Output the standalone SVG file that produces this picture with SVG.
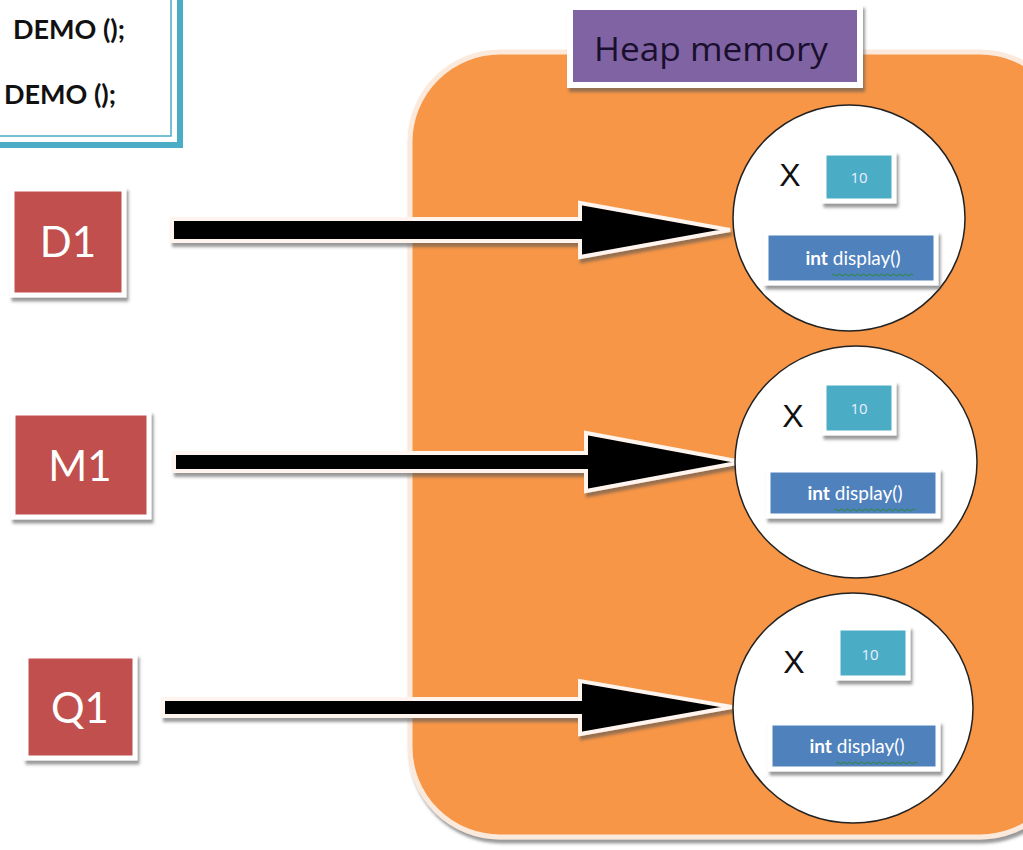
<svg xmlns="http://www.w3.org/2000/svg" width="1023" height="850" viewBox="0 0 1023 850">
<style>
.red{fill:#C0504D;stroke:#fff;stroke-width:5}
.redt{font-family:Lato,"Open Sans",sans-serif;font-size:42px;fill:#fff;text-anchor:middle}
.circ{fill:#fff;stroke:#222;stroke-width:1.5}
.val{fill:#4BACC6;stroke:#fff;stroke-width:5}
.valt{font-family:"Open Sans",sans-serif;font-size:15px;fill:#eef;text-anchor:middle}
.meth{fill:#4F81BD;stroke:#fff;stroke-width:5}
.metht{font-family:Lato,"Open Sans",sans-serif;font-size:19px;fill:#fff;text-anchor:middle}
.x{font-family:"Liberation Sans",Arial,sans-serif;font-size:32px;fill:#111;text-anchor:middle}
.arrow{fill:#000;stroke:#fff5ee;stroke-width:4;stroke-linejoin:miter}
.demo{font-family:Lato,"Open Sans",sans-serif;font-weight:bold;font-size:27px;fill:#111}
.sq{fill:none;stroke:#2a8a2a;stroke-width:1}
</style>
<defs>
<filter id="sh" x="-10%" y="-10%" width="130%" height="130%">
<feDropShadow dx="2" dy="4" stdDeviation="1.5" flood-color="#555" flood-opacity="0.6"/>
</filter>
</defs>
<rect width="1023" height="850" fill="#fff"/>

<g id="code">
<rect x="-10" y="-10" width="190" height="155" fill="#fff" stroke="#4BACC6" stroke-width="6"/>
<rect x="-10" y="-10" width="181" height="146" fill="none" stroke="#4BACC6" stroke-width="1.5"/>
<text class="demo" x="13" y="39">DEMO ();</text>
<text class="demo" x="4" y="104">DEMO ();</text>
</g>

<g id="heap">
<rect x="410" y="52" width="660" height="785" rx="90" ry="90" fill="#F79646" stroke="#fbe9dc" stroke-width="5" filter="url(#sh)"/>
</g>

<g id="heap-label">
<rect x="570" y="7" width="290" height="78" fill="#8064A2" stroke="#fff" stroke-width="6" filter="url(#sh)"/>
<text x="711" y="61" font-family="'Open Sans',sans-serif" font-size="33" fill="#1a0f2e" text-anchor="middle" textLength="234" lengthAdjust="spacingAndGlyphs">Heap memory</text>
</g>

<g id="D1">
<rect class="red" x="12" y="189" width="112" height="106" filter="url(#sh)"/>
<text class="redt" x="68" y="257">D1</text>
</g>
<g id="M1">
<rect class="red" x="13" y="413" width="136" height="104" filter="url(#sh)"/>
<text class="redt" x="80" y="481">M1</text>
</g>
<g id="Q1">
<rect class="red" x="26" y="656" width="109" height="102" filter="url(#sh)"/>
<text class="redt" x="80" y="723">Q1</text>
</g>

<g id="connectors">
<polygon class="arrow" filter="url(#sh)" points="172,219 580,219 580,203 730,230 580,257 580,241 172,241"/>
<polygon class="arrow" filter="url(#sh)" points="174,453 586,453 586,433 742,462 586,491 586,471 174,471"/>
<polygon class="arrow" filter="url(#sh)" points="163,699 580,699 580,681 732,707 580,734 580,716 163,716"/>
</g>

<g id="obj1">
<ellipse class="circ" cx="849" cy="218" rx="116" ry="113"/>
<text class="x" x="790" y="186">X</text>
<rect class="val" x="824" y="153" width="70" height="48" filter="url(#sh)"/>
<text class="valt" x="859" y="183">10</text>
<rect class="meth" x="766" y="233" width="170" height="50" filter="url(#sh)"/>
<text class="metht" x="853" y="265"><tspan font-weight="bold">int</tspan> display()</text>
<path class="sq" d="M832,275 q1.5,-2 3,0 t3,0 t3,0 t3,0 t3,0 t3,0 t3,0 t3,0 t3,0 t3,0 t3,0 t3,0 t3,0 t3,0 t3,0 t3,0 t3,0 t3,0 t3,0 t3,0 t3,0 t3,0 t3,0 t3,0 t3,0 t3,0 t3,0"/>
</g>

<g id="obj2">
<ellipse class="circ" cx="856" cy="462" rx="121" ry="116"/>
<text class="x" x="793" y="427">X</text>
<rect class="val" x="824" y="383" width="70" height="50" filter="url(#sh)"/>
<text class="valt" x="859" y="414">10</text>
<rect class="meth" x="768" y="470" width="170" height="46" filter="url(#sh)"/>
<text class="metht" x="855" y="500"><tspan font-weight="bold">int</tspan> display()</text>
<path class="sq" d="M834,510 q1.5,-2 3,0 t3,0 t3,0 t3,0 t3,0 t3,0 t3,0 t3,0 t3,0 t3,0 t3,0 t3,0 t3,0 t3,0 t3,0 t3,0 t3,0 t3,0 t3,0 t3,0 t3,0 t3,0 t3,0 t3,0 t3,0 t3,0 t3,0"/>
</g>

<g id="obj3">
<ellipse class="circ" cx="853" cy="708" rx="120" ry="115"/>
<text class="x" x="794" y="673">X</text>
<rect class="val" x="838" y="628" width="70" height="50" filter="url(#sh)"/>
<text class="valt" x="870" y="660">10</text>
<rect class="meth" x="770" y="723" width="168" height="46" filter="url(#sh)"/>
<text class="metht" x="857" y="753"><tspan font-weight="bold">int</tspan> display()</text>
<path class="sq" d="M836,763 q1.5,-2 3,0 t3,0 t3,0 t3,0 t3,0 t3,0 t3,0 t3,0 t3,0 t3,0 t3,0 t3,0 t3,0 t3,0 t3,0 t3,0 t3,0 t3,0 t3,0 t3,0 t3,0 t3,0 t3,0 t3,0 t3,0 t3,0 t3,0"/>
</g>
</svg>
